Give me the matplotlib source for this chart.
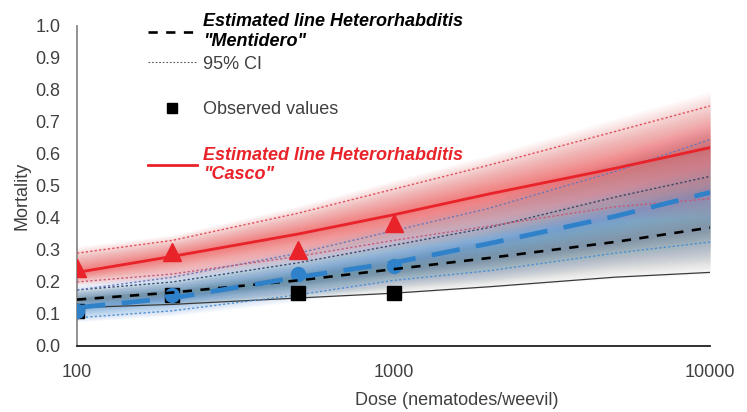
import numpy as np
import matplotlib
matplotlib.use("Agg")
import matplotlib.pyplot as plt
from matplotlib.lines import Line2D

plt.rcParams['font.family'] = ['Liberation Sans', 'DejaVu Sans']

# ---- data ----
doses = [100, 200, 500, 1000, 2000, 5000, 10000]
red_est = [0.23, 0.28, 0.35, 0.41, 0.475, 0.555, 0.62]
red_hi = [0.29, 0.33, 0.415, 0.49, 0.565, 0.67, 0.75]
red_lo = [0.20, 0.225, 0.28, 0.33, 0.375, 0.435, 0.46]
blue_est = [0.12, 0.15, 0.215, 0.26, 0.32, 0.405, 0.48]
blue_hi = [0.175, 0.215, 0.29, 0.36, 0.43, 0.545, 0.645]
blue_lo = [0.088, 0.11, 0.16, 0.205, 0.235, 0.29, 0.325]
black_est = [0.145, 0.167, 0.205, 0.24, 0.275, 0.325, 0.37]
black_hi = [0.175, 0.20, 0.26, 0.315, 0.37, 0.465, 0.53]
black_lo = [0.12, 0.13, 0.15, 0.165, 0.185, 0.215, 0.23]

obs_doses = [100, 200, 500, 1000]
casco_obs = [0.245, 0.295, 0.30, 0.385]
mentidero_obs = [0.11, 0.16, 0.165, 0.165]
blue_obs = [0.11, 0.16, 0.225, 0.25]

xticks = [100, 1000, 10000]
xtick_labels = ['100', '1000', '10000']
yticks = [0.0, 0.1, 0.2, 0.3, 0.4, 0.5, 0.6, 0.7, 0.8, 0.9, 1.0]

RED = '#e8232a'
BLUE = '#2f82c9'
TXT = '#404040'

fig = plt.figure(figsize=(7.47, 4.12), dpi=100)
ax = fig.add_axes([0.1031, 0.1602, 0.8474, 0.7767])
ax.set_xscale('log')
ax.set_xlim(100, 10000)
ax.set_ylim(0, 1.0)


def glow(x, c, lo, hi, color, n=40, amax=0.65, ext=1.35, p=1.3, z=1):
    x = np.asarray(x, float)
    c = np.asarray(c, float)
    lo = np.asarray(lo, float)
    hi = np.asarray(hi, float)
    a = 1 - (1 - amax) ** (1.0 / n)
    for k in range(1, n + 1):
        f = ext * (k / n) ** p
        ax.fill_between(x, c - (c - lo) * f, c + (hi - c) * f, color=color,
                        alpha=a, lw=0, zorder=z)


glow(doses, black_est, black_lo, black_hi, '#787878', amax=0.55, ext=1.05, p=1.1, z=1)
glow(doses, blue_est, blue_lo, blue_hi, '#4f95d4', amax=0.62, ext=1.4, z=1.1)
glow(doses, red_est, red_lo, red_hi, '#f04848', amax=0.66, ext=1.35, z=1.2)

dot = dict(lw=1.0, dashes=(1.6, 1.6))
# CI lines
ax.plot(doses, black_lo, color='#3a3a3a', lw=0.9, zorder=3)
ax.plot(doses, black_hi, color='#3c4a66', zorder=3, **dot)
ax.plot(doses, blue_lo, color='#4f8fd0', zorder=3, **dot)
ax.plot(doses, blue_hi, color='#6f78b8', zorder=3, **dot)
ax.plot(doses, red_lo, color='#c85a78', zorder=3, **dot)
ax.plot(doses, red_hi, color='#e0505a', zorder=3, **dot)

# observed points
ax.plot(obs_doses, mentidero_obs, 's', color='black', ms=10, zorder=4)
ax.plot(obs_doses, blue_obs, 'o', color=BLUE, ms=10, zorder=4.5)
ax.plot(obs_doses, casco_obs, '^', color=RED, ms=12.5, zorder=5)

# estimated lines
ax.plot(doses, black_est, color='black', lw=1.9, dashes=(3.5, 3.2), zorder=6)
ax.plot(doses, blue_est, color=BLUE, lw=3.4, dashes=(6, 3.5), zorder=6)
ax.plot(doses, red_est, color=RED, lw=2.0, zorder=6)

# axes styling
for s in ['top', 'right']:
    ax.spines[s].set_visible(False)
ax.spines['left'].set_color('#8a8a8a')
ax.spines['left'].set_linewidth(1.3)
ax.spines['bottom'].set_color('#202020')
ax.spines['bottom'].set_linewidth(1.3)
ax.set_xticks(xticks)
ax.set_xticklabels(xtick_labels)
ax.xaxis.set_minor_locator(matplotlib.ticker.NullLocator())
ax.set_yticks(yticks)
ax.set_yticklabels([f'{v:.1f}' for v in yticks])
ax.tick_params(axis='y', length=0, pad=12, labelsize=13, labelcolor=TXT)
ax.tick_params(axis='x', length=0, pad=13, labelsize=13, labelcolor=TXT)

ax.set_ylabel('Mortality', fontsize=13, color=TXT)
ax.yaxis.set_label_coords(-0.073, 0.47)
ax.set_xlabel('Dose (nematodes/weevil)', fontsize=13, color=TXT)
ax.xaxis.set_label_coords(0.60, -0.145)

# legend
handles = [
    Line2D([], [], color='black', lw=1.9, dashes=(3.5, 3.2)),
    Line2D([], [], color='#606060', lw=0.8, dashes=(1.6, 1.6)),
    Line2D([], [], linestyle='none'),
    Line2D([], [], linestyle='none', marker='s', color='black', ms=7),
    Line2D([], [], linestyle='none'),
    Line2D([], [], color=RED, lw=2.0),
]
labels = ['Estimated line Heterorhabditis\n"Mentidero"', '95% CI', ' ',
          'Observed values', ' ', 'Estimated line Heterorhabditis\n"Casco"']
leg = ax.legend(handles, labels, loc='upper left', bbox_to_anchor=(0.112, 1.04),
                frameon=False, fontsize=13, handlelength=2.7, handletextpad=0.35,
                labelspacing=0.32, borderpad=0, borderaxespad=0)
leg.set_zorder(10)
texts = leg.get_texts()
texts[0].set_fontweight('bold'); texts[0].set_fontstyle('italic'); texts[0].set_color('black')
texts[1].set_color(TXT)
texts[3].set_color(TXT)
texts[5].set_fontweight('bold'); texts[5].set_fontstyle('italic'); texts[5].set_color(RED)

fig.savefig('out.png', dpi=100)
